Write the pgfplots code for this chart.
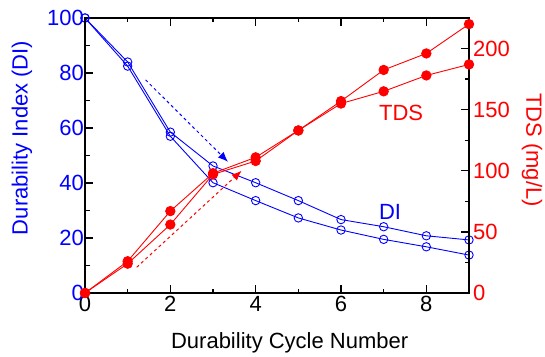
\documentclass[border=0pt]{standalone}
\usepackage{pgfplots}
\pgfplotsset{compat=1.18}
\usetikzlibrary{arrows.meta}
\usepackage{fontspec}
\setmainfont{Liberation Sans}
\definecolor{pblue}{RGB}{0,0,255}
\definecolor{pred}{RGB}{255,0,0}
\newcommand{\ff}{\fontsize{22}{26}\selectfont}
\begin{document}
\begin{tikzpicture}
\useasboundingbox (0pt,0pt) rectangle (545pt,356pt);
\pgfplotsset{
  common/.style={
    at={(85pt,63pt)}, anchor=south west, scale only axis,
    width=384pt, height=275pt,
    xmin=0, xmax=9,
    /pgf/number format/assume math mode=true,
    tick label style={font=\ff},
    label style={font=\ff},
    major tick length=8pt, minor tick length=4.5pt,
    every tick/.style={line width=1.4pt, black},
    axis line style={line width=1.6pt},
    clip=false,
  }
}
\begin{axis}[common,
  ymin=0, ymax=100,
  xtick={0,2,4,6,8}, minor xtick={1,3,5,7,9},
  ytick={0,20,40,60,80,100}, minor ytick={10,30,50,70,90},
  xtick pos=both, ytick pos=left,
  yticklabel style={text=pblue, inner sep=1pt},
  ylabel={Durability Index (DI)},
  ylabel style={text=pblue, at={(axis description cs:-0.164,0.564)}, anchor=center},
  xlabel={Durability Cycle Number},
  xlabel style={at={(axis description cs:0.533,-0.182)}, anchor=center},
]
\addplot[pblue, line width=0.9pt, mark=o, mark size=4.2pt, mark options={fill=white, line width=0.9pt}] coordinates {
(0,100) (1,84) (2,58.5) (3,46.2) (4,40.1) (5,33.6) (6,26.7) (7,24.1) (8,20.8) (9,19.3)};
\addplot[pblue, line width=0.9pt, mark=o, mark size=4.2pt, mark options={fill=white, line width=0.9pt}] coordinates {
(0,100) (1,82.5) (2,57) (3,40.1) (4,33.6) (5,27.3) (6,22.9) (7,19.5) (8,16.8) (9,13.8)};
\draw[pblue, line width=1pt, dashed, -{Latex[length=10pt,width=8pt]}] (axis cs:1.42,77.5) -- (axis cs:3.35,47.7);
\node[text=pblue, font=\ff] at (axis cs:7.15,29.6) {DI};
\end{axis}
\begin{axis}[common,
  ymin=0, ymax=225,
  axis x line=none,
  ytick={0,50,100,150,200}, minor ytick={25,75,125,175,225},
  ytick pos=right,
  yticklabel style={text=pred, inner sep=1pt, xshift=3pt},
  ylabel={TDS (mg/L)},
  ylabel style={text=pred, rotate=180, at={(axis description cs:1.164,0.52)}, anchor=center},
]
\addplot[pred, line width=0.9pt, mark=*, mark size=4.7pt, mark options={fill=pred}] coordinates {
(0,0) (1,26) (2,67) (3,98) (4,111) (5,133) (6,157) (7,182.5) (8,196) (9,220)};
\addplot[pred, line width=0.9pt, mark=*, mark size=4.7pt, mark options={fill=pred}] coordinates {
(0,0) (1,24) (2,56) (3,97) (4,108) (5,133) (6,155) (7,165) (8,178) (9,187)};
\draw[pred, line width=1pt, dashed, -{Latex[length=10pt,width=8pt]}] (axis cs:1.21,21) -- (axis cs:3.67,100);
\node[text=pred, font=\ff] at (axis cs:7.41,147.7) {TDS};
\end{axis}
\end{tikzpicture}
\end{document}
